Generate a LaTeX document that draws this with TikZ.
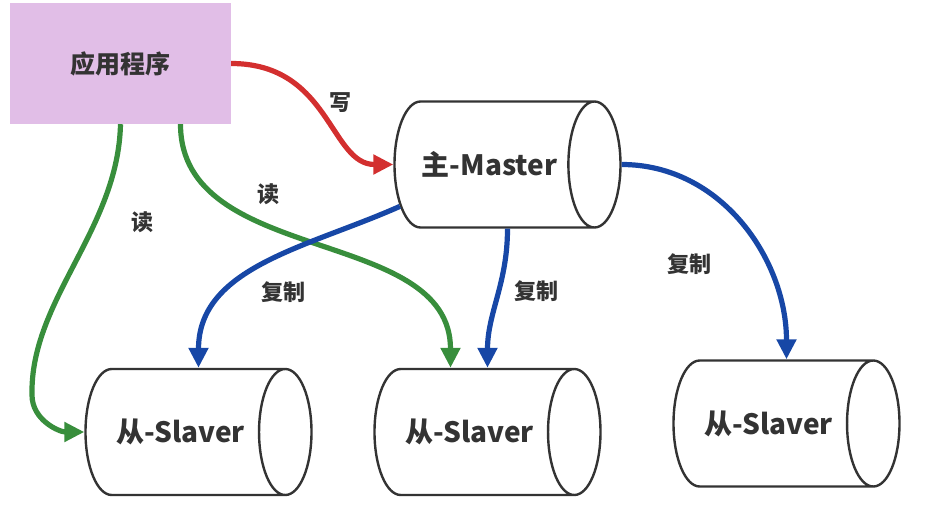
\documentclass[tikz,border=0pt]{standalone}
\usepackage{fontspec}
\newfontfamily\cjk{Noto Sans CJK SC}
\usetikzlibrary{shapes.geometric,arrows.meta}
\definecolor{apppurple}{HTML}{E1BEE7}
\definecolor{wred}{HTML}{D32F2F}
\definecolor{rgreen}{HTML}{388E3C}
\definecolor{cblue}{HTML}{1747A6}
\definecolor{ink}{HTML}{333333}
\tikzset{
  appbox/.style={rectangle, fill=apppurple, minimum width=221pt, minimum height=121pt, text=ink, font=\cjk\bfseries\fontsize{25}{25}\selectfont},
  db/.style={cylinder, draw=ink, line width=2.4pt, fill=white, minimum width=126pt, minimum height=226pt, aspect=1.6, anchor=shape center, text=ink, font=\cjk\bfseries\fontsize{28}{28}\selectfont},
  lab/.style={text=ink, font=\cjk\bfseries\fontsize{22}{22}\selectfont},
  flow/.style={line width=5.2pt, -{Triangle[length=20pt,width=19pt]}},
}
\begin{document}
\begin{tikzpicture}[x=1pt,y=1pt]
\useasboundingbox (0,0) rectangle (934,-509);
\node[appbox] (app) at (120.5,-63.5) {应用程序};
\node[db] (master) at (507.5,-164.5) {主-Master};
\node[db] (slave1) at (198.5,-432) {从-Slaver};
\node[db] (slave2) at (487.5,-432) {从-Slaver};
\node[db] (slave3) at (786.5,-423.5) {从-Slaver};

% write
\draw[flow, wred] (app.east) .. controls (330,-63.5) and (330,-164.5) .. (master.west);
\node[lab] (w) at (340,-103) {写};
% read
\draw[flow, rgreen] (app.south) .. controls (118,-230) and (30,-300) .. (32,-395) to[out=-90,in=180] (slave1.west);
\node[lab] (r1) at (142,-222) {读};
\draw[flow, rgreen] ([xshift=60pt]app.south) to[out=-90,in=90] ([xshift=-37pt]slave2.shape center |- slave2.north);
\node[lab] (r2) at (268,-194) {读};
% copy
\draw[flow, cblue] (master.205) to[out=204,in=90] (slave1.shape center |- slave1.north);
\node[lab] (c1) at (283,-292) {复制};
\draw[flow, cblue] (master.shape center |- master.south) to[out=-90,in=90] (slave2.shape center |- slave2.north);
\node[lab] (c2) at (536,-291) {复制};
\draw[flow, cblue] (master.east) to[out=0,in=90] (slave3.shape center |- slave3.north);
\node[lab] (c3) at (689,-264) {复制};
\end{tikzpicture}
\end{document}
